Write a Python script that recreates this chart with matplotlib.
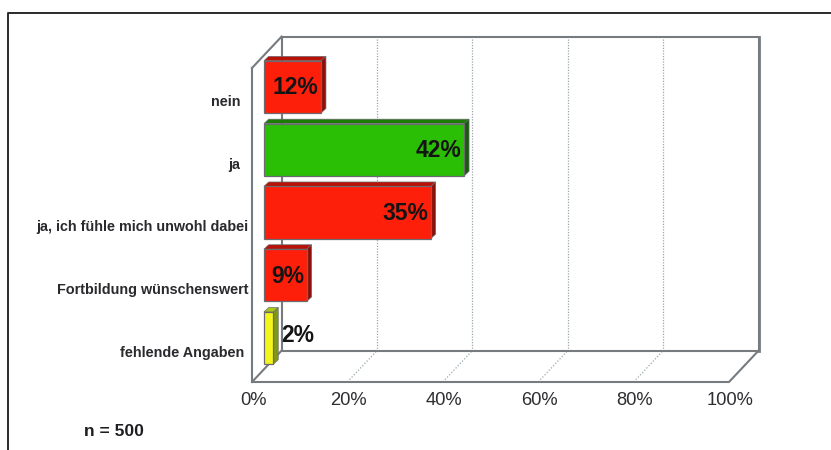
import matplotlib
matplotlib.use("Agg")
import matplotlib.pyplot as plt
from matplotlib.patches import Polygon

categories = ["nein  ", "ja  ", "ja, ich fühle mich unwohl dabei", "Fortbildung wünschenswert", "fehlende Angaben "]
values = [12, 42, 35, 9, 2]
value_labels = ["12%", "42%", "35%", "9%", "2%"]
front_colors = ["#fe1f0a", "#2abf05", "#fe1f0a", "#fe1f0a", "#f5f51e"]
top_colors = ["#b81208", "#1c7c06", "#b81208", "#b81208", "#a8c814"]
side_colors = ["#8c0f08", "#175c08", "#8c0f08", "#8c0f08", "#7f9a10"]
x_ticks = [0, 20, 40, 60, 80, 100]
x_tick_labels = ["0%", "20%", "40%", "60%", "80%", "100%"]

W, H = 831, 450
LINE = "#767b80"
FONT = "Liberation Sans"

# depth of the box and of the bars, in axis units
BACK_X, BACK_Y = 6.2, 0.5
BAR_X, BAR_Y = 2.5, 0.2
BAR_DX, BAR_DY = 1.0, 0.07
BAR_H = 0.83

fig = plt.figure(figsize=(W / 100, H / 100), dpi=100)
ax = fig.add_axes([252 / W, 1 - 382 / H, 477 / W, 314 / H])
ax.set_xlim(0, 100)
ax.set_ylim(4.5, -0.5)
ax.axis("off")


def line(xs, ys, lw=1.5, ls="-", color=LINE, z=1):
    ax.plot(xs, ys, color=color, lw=lw, ls=ls, clip_on=False, zorder=z, solid_capstyle="projecting")


bottom, top = 4.5, -0.5
back_bottom, back_top = bottom - BACK_Y, top - BACK_Y

# dotted grid on wall and floor
for t in x_ticks[1:-1]:
    line([t + BACK_X, t + BACK_X], [back_bottom, back_top], lw=0.9, ls=(0, (1, 1.2)), color="#9aa8ae")
    line([t, t + BACK_X], [bottom, back_bottom], lw=0.9, ls=(0, (1, 1.5)), color="#9aa8ae")

# box outline
line([BACK_X, 100 + BACK_X, 100 + BACK_X, BACK_X, BACK_X], [back_top, back_top, back_bottom, back_bottom, back_top])
line([100 + BACK_X, 100 + BACK_X], [back_top, back_bottom], lw=2)
line([0, 0, 100, 100 + BACK_X], [top, bottom, bottom, back_bottom])
line([0, BACK_X], [top, back_top])
line([0, BACK_X], [bottom, back_bottom])

# bars with their top and side faces
y_pos = [i - BAR_Y for i in range(len(values))]
ax.barh(y_pos, values, left=BAR_X, height=BAR_H, color=front_colors, edgecolor="#6a6a70", linewidth=0.9, zorder=4, clip_on=False)
for y, v, ct, cs in zip(y_pos, values, top_colors, side_colors):
    x0, x1 = BAR_X, BAR_X + v
    y0, y1 = y - BAR_H / 2, y + BAR_H / 2
    ax.add_patch(Polygon([(x0, y0), (x1, y0), (x1 + BAR_DX, y0 - BAR_DY), (x0 + BAR_DX, y0 - BAR_DY)],
                         facecolor=ct, edgecolor="#6a6a70", lw=0.5, zorder=3, clip_on=False))
    ax.add_patch(Polygon([(x1, y0), (x1 + BAR_DX, y0 - BAR_DY), (x1 + BAR_DX, y1 - BAR_DY), (x1, y1)],
                         facecolor=cs, edgecolor="#6a6a70", lw=0.5, zorder=3, clip_on=False))

# value labels, inside the bar end unless the bar is too short
for y, v, lab in zip(y_pos, values, value_labels):
    if v < 5:
        ax.annotate(lab, (BAR_X + v, y), xytext=(5.5, 1.5), textcoords="offset points", ha="left", va="center",
                    fontsize=16.5, fontweight="bold", family=FONT, color="#141414", zorder=6)
    else:
        ax.annotate(lab, (BAR_X + v, y), xytext=(-2, -0.8), textcoords="offset points", ha="right", va="center",
                    fontsize=16.5, fontweight="bold", family=FONT, color="#141414", zorder=6)

# axis text
for i, name in enumerate(categories):
    ax.annotate(name, (0, i), xytext=(-2.5, -1.8), textcoords="offset points", ha="right", va="center",
                fontsize=10.4, fontweight="bold", family=FONT, color="#2a2a2e", annotation_clip=False)
for t, lab in zip(x_ticks, x_tick_labels):
    ax.annotate(lab, (t, bottom), xytext=(0.8, -13.5), textcoords="offset points", ha="center", va="center",
                fontsize=13.2, family=FONT, color="#2e2e32", annotation_clip=False)

fig.text(84 / W, 1 - 432 / H, "n = 500", fontsize=12.6, fontweight="bold", family=FONT, color="#1e1e22", va="center")

# outer frame, open at the bottom and on the right
fig.add_artist(plt.Line2D([8 / W, 8 / W, 1], [0, 1 - 13 / H, 1 - 13 / H], color="#2a2a2a", lw=1.4))

fig.savefig("out.png", dpi=100)
